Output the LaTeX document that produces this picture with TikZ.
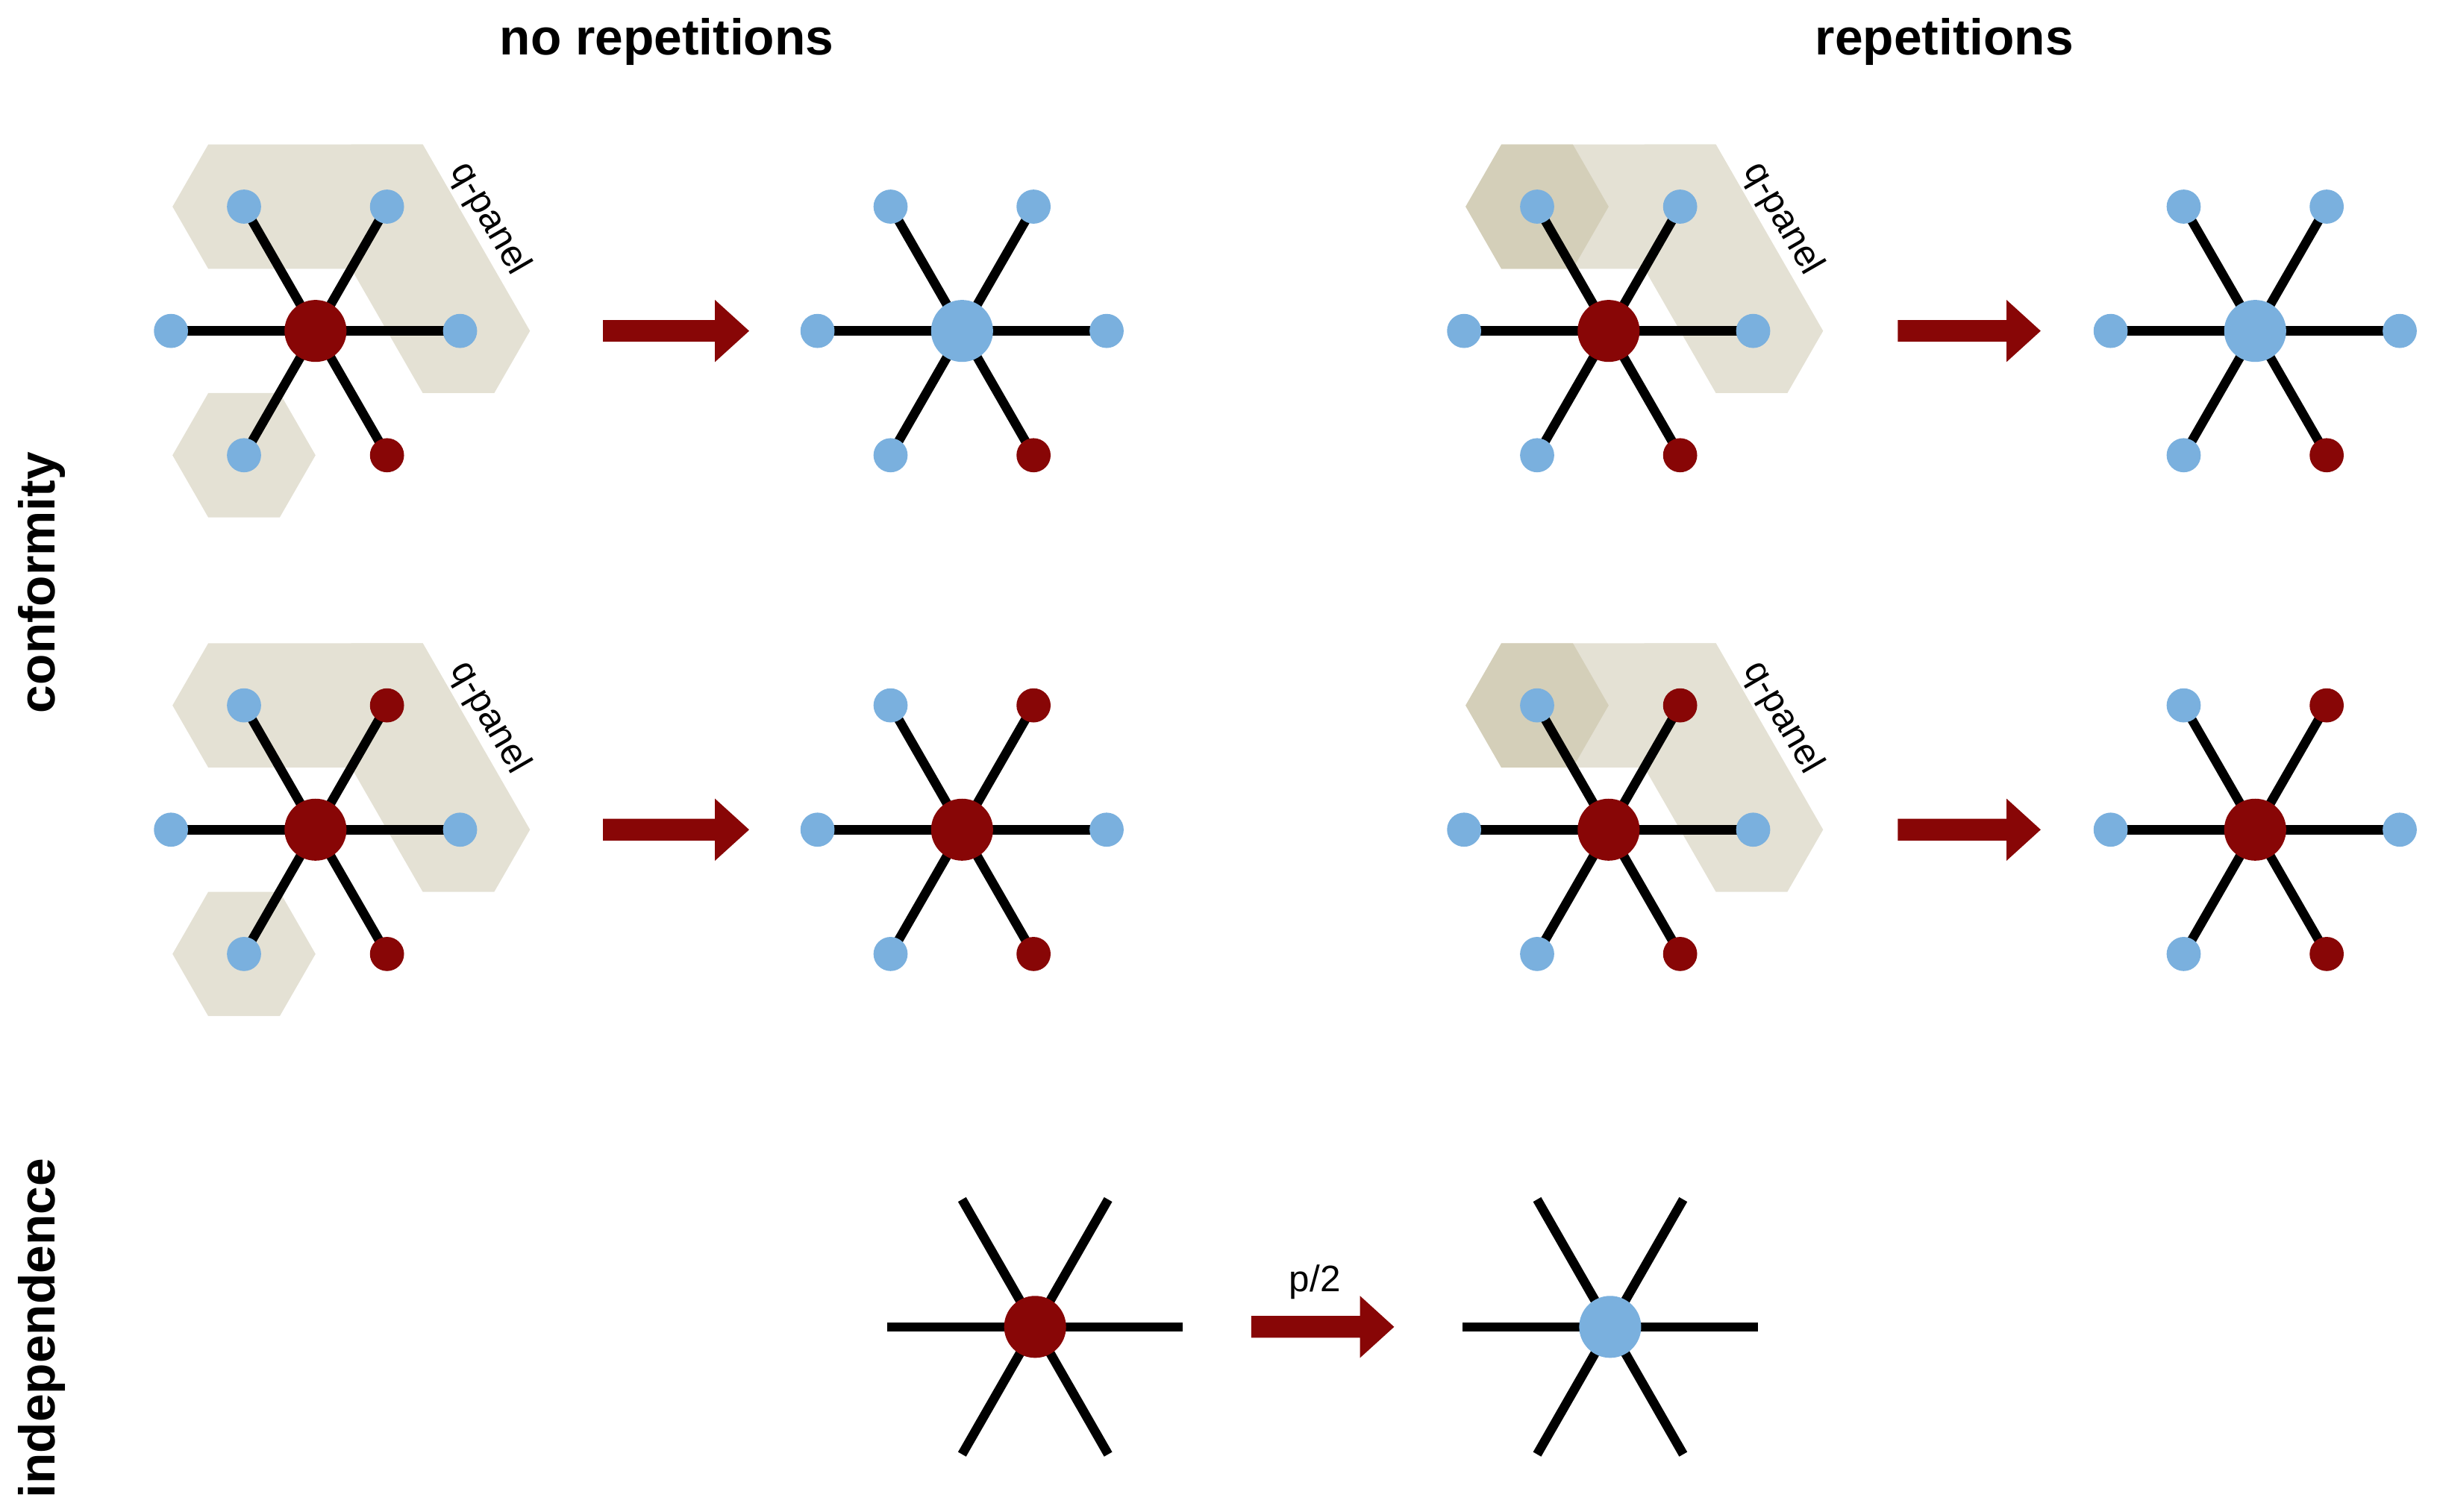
\documentclass[tikz,border=0pt]{standalone}
\usepackage{fontspec}
\setmainfont{Liberation Sans}
\begin{document}
\definecolor{dred}{RGB}{136,6,6}
\definecolor{lblue}{RGB}{122,176,222}
\definecolor{beige}{RGB}{228,225,212}
\definecolor{dbeige}{RGB}{212,207,185}
\tikzset{
 spoke/.style={line width=3.4pt,black},
 big/.style={circle,inner sep=0pt,minimum size=22.7pt,draw=none},
 sm/.style={circle,inner sep=0pt,minimum size=12.5pt,draw=none},
 title/.style={font=\bfseries\fontsize{18.5}{22}\selectfont,inner sep=0pt},
 lab/.style={font=\fontsize{13.5}{16}\selectfont,inner sep=0pt},
 arr/.style={fill=dred,draw=none}
}
\newcommand\mystar[9]{%
 \begin{scope}[shift={(#2)}]
 \coordinate (#1c) at (0,0);
 \coordinate (#1l) at (-93,0); \coordinate (#1r) at (93,0);
 \coordinate (#1ul) at (-46,-80); \coordinate (#1ur) at (46,-80);
 \coordinate (#1ll) at (-46,80); \coordinate (#1lr) at (46,80);
 \foreach \e in {l,r,ul,ur,ll,lr} \draw[spoke] (#1c) -- (#1\e);
 \node[big,fill=#3] (#1C) at (#1c) {};
 \node[sm,fill=#4] (#1L) at (#1l) {};
 \node[sm,fill=#5] (#1R) at (#1r) {};
 \node[sm,fill=#6] (#1UL) at (#1ul) {};
 \node[sm,fill=#7] (#1UR) at (#1ur) {};
 \node[sm,fill=#8] (#1LL) at (#1ll) {};
 \node[sm,fill=#9] (#1LR) at (#1lr) {};
 \end{scope}}
\newcommand\panelA[1]{%
 \begin{scope}[shift={(#1)}]
 \fill[beige] (-92,-80)--(-69,-120)--(69,-120)--(92,-80)--(69,-40)--(-69,-40)--cycle;
 \fill[beige] (0,-80)--(23,-120)--(69,-120)--(138,0)--(115,40)--(69,40)--cycle;
 \fill[beige] (-92,80)--(-69,40)--(-23,40)--(0,80)--(-23,120)--(-69,120)--cycle;
 \node[lab,rotate=-60] (#1q) at (112,-72) {q-panel};
 \end{scope}}
\newcommand\panelB[1]{%
 \begin{scope}[shift={(#1)}]
 \fill[beige] (-92,-80)--(-69,-120)--(69,-120)--(92,-80)--(69,-40)--(-69,-40)--cycle;
 \fill[beige] (0,-80)--(23,-120)--(69,-120)--(138,0)--(115,40)--(69,40)--cycle;
 \fill[dbeige] (-92,-80)--(-69,-120)--(-23,-120)--(0,-80)--(-23,-40)--(-69,-40)--cycle;
 \node[lab,rotate=-60] (#1q) at (112,-72) {q-panel};
 \end{scope}}
\newcommand\myarrow[3]{%
 \fill[arr] (#1,#3-7)--(#2-22,#3-7)--(#2-22,#3-20)--(#2,#3)--(#2-22,#3+20)--(#2-22,#3+7)--(#1,#3+7)--cycle;}
\begin{tikzpicture}[x={(0.02cm,0)},y={(0,-0.02cm)}]
\useasboundingbox (0,0) rectangle (1568,973);
\node[title] (t1) at (429,27) {no repetitions};
\node[title] (t2) at (1251,27) {repetitions};
\node[title,rotate=90] (t3) at (27,375) {conformity};
\node[title,rotate=90] (t4) at (27,855) {independence};
% row 1
\panelA{203,213}
\mystar{a}{203,213}{dred}{lblue}{lblue}{lblue}{lblue}{lblue}{dred}
\myarrow{388}{482}{213}
\mystar{b}{619,213}{lblue}{lblue}{lblue}{lblue}{lblue}{lblue}{dred}
\panelB{1035,213}
\mystar{c}{1035,213}{dred}{lblue}{lblue}{lblue}{lblue}{lblue}{dred}
\myarrow{1221}{1313}{213}
\mystar{d}{1451,213}{lblue}{lblue}{lblue}{lblue}{lblue}{lblue}{dred}
% row 2
\panelA{203,534}
\mystar{e}{203,534}{dred}{lblue}{lblue}{lblue}{dred}{lblue}{dred}
\myarrow{388}{482}{534}
\mystar{f}{619,534}{dred}{lblue}{lblue}{lblue}{dred}{lblue}{dred}
\panelB{1035,534}
\mystar{g}{1035,534}{dred}{lblue}{lblue}{lblue}{dred}{lblue}{dred}
\myarrow{1221}{1313}{534}
\mystar{h}{1451,534}{dred}{lblue}{lblue}{lblue}{dred}{lblue}{dred}
% row 3
\foreach \n/\cx/\col in {i/666/dred,j/1036/lblue}{
 \begin{scope}[shift={(\cx,854)}]
 \coordinate (\n c) at (0,0);
 \foreach \a/\b in {-95/0,95/0,-47/-82,47/-82,-47/82,47/82} \draw[spoke] (\n c) -- (\a,\b);
 \node[big,fill=\col] (\n C) at (\n c) {};
 \end{scope}}
\myarrow{805}{897}{854}
\node[lab] (p) at (846,825) {p/2};
\end{tikzpicture}
\end{document}
